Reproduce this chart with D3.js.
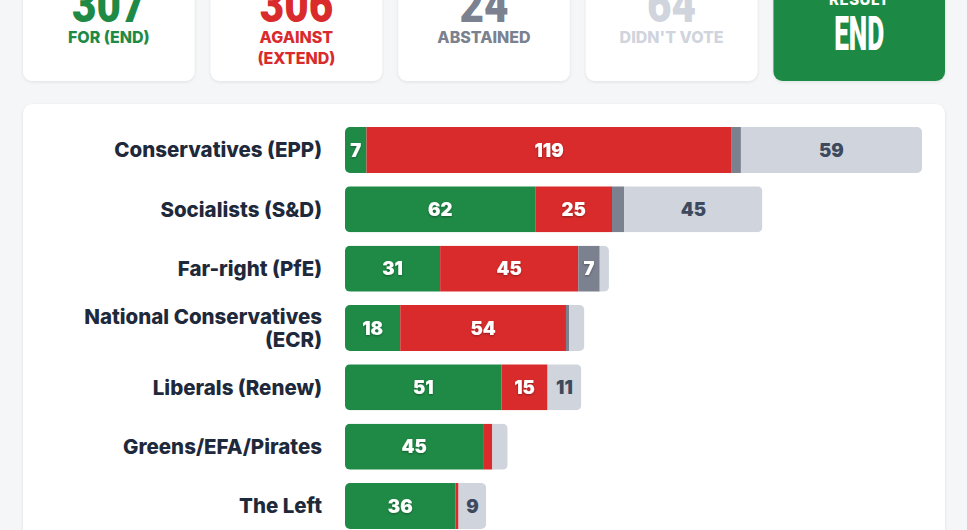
<!DOCTYPE html>
<html>
<head>
<meta charset="utf-8">
<script src="https://cdn.jsdelivr.net/npm/d3@7"></script>
<style>
  html, body { margin: 0; padding: 0; background: #f5f6f8; }
  svg { display: block; }
</style>
</head>
<body>
<svg id="chart" width="967" height="530"></svg>
<script>
// ---- data ----
const groups = ["Conservatives (EPP)", "Socialists (S&D)", "Far-right (PfE)", "National Conservatives (ECR)", "Liberals (Renew)", "Greens/EFA/Pirates", "The Left"];
const forVotes = [7, 62, 31, 18, 51, 45, 36];
const againstVotes = [119, 25, 45, 54, 15, 3, 1];
const abstainedVotes = [3, 4, 7, 1, 0, 0, 0];
const didntVoteVotes = [59, 45, 3, 5, 11, 5, 9];
const seriesKeys = ["for", "against", "abstained", "didnt"];

const summaryValues = [307, 306, 24, 64];
const summaryLabels = [["FOR (END)"], ["AGAINST", "(EXTEND)"], ["ABSTAINED"], ["DIDN'T VOTE"]];
const resultLabel = "RESULT";
const resultValue = "END";

// ---- style ----
const colors = { for: "#1f8a45", against: "#d92b2b", abstained: "#7b818e", didnt: "#d0d4dd" };
const summaryColors = ["#1f8a45", "#d92b2b", "#7b818e", "#d0d4dd"];
const svg = d3.select("#chart");

const defs = svg.append("defs");
const sh = defs.append("filter").attr("id", "cardShadow").attr("x", "-10%").attr("y", "-10%").attr("width", "120%").attr("height", "130%");
sh.append("feDropShadow").attr("dx", 0).attr("dy", 1).attr("stdDeviation", 1.5).attr("flood-color", "#1e293b").attr("flood-opacity", 0.10);
const ts = defs.append("filter").attr("id", "textShadow").attr("x", "-20%").attr("y", "-20%").attr("width", "140%").attr("height", "150%");
ts.append("feDropShadow").attr("dx", 0).attr("dy", 1).attr("stdDeviation", 1).attr("flood-color", "#000").attr("flood-opacity", 0.35);

// ---- summary cards ----
const cardX = d3.scaleBand().domain(d3.range(5)).range([23, 945]).paddingInner(0.0855);
const cardTop = -60, cardBottom = 81;
const cards = svg.append("g");
d3.range(5).forEach(i => {
  const x = cardX(i), w = cardX.bandwidth();
  cards.append("rect").attr("x", x).attr("y", cardTop).attr("width", w).attr("height", cardBottom - cardTop)
    .attr("rx", 9).attr("fill", i === 4 ? "#1f8a45" : "#ffffff").attr("filter", "url(#cardShadow)");
  const cx = x + w / 2;
  if (i < 4) {
    const v = String(summaryValues[i]);
    cards.append("text").attr("x", cx).attr("y", 22).attr("text-anchor", "middle")
      .attr("font-family", "Roboto, 'DejaVu Sans'").attr("font-weight", 900).attr("font-size", 50)
      .attr("textLength", v.length * 24.5).attr("lengthAdjust", "spacingAndGlyphs")
      .attr("fill", summaryColors[i]).text(v);
    summaryLabels[i].forEach((line, j) => {
      cards.append("text").attr("x", cx).attr("y", 43 + j * 21).attr("text-anchor", "middle")
        .attr("font-family", "Inter, Roboto, sans-serif").attr("font-weight", 800).attr("font-size", 16)
        .attr("fill", summaryColors[i]).text(line);
    });
  } else {
    cards.append("text").attr("x", cx).attr("y", 5).attr("text-anchor", "middle")
      .attr("font-family", "Inter, Roboto, sans-serif").attr("font-weight", 800).attr("font-size", 15)
      .attr("letter-spacing", 0.5).attr("fill", "#ffffff").text(resultLabel);
    cards.append("text").attr("x", cx).attr("y", 50).attr("text-anchor", "middle")
      .attr("font-family", "Roboto, 'DejaVu Sans'").attr("font-weight", 900).attr("font-size", 48)
      .attr("textLength", 50).attr("lengthAdjust", "spacingAndGlyphs")
      .attr("fill", "#ffffff").text(resultValue);
  }
});

// ---- panel ----
svg.append("rect").attr("x", 23).attr("y", 104).attr("width", 922).attr("height", 500)
  .attr("rx", 10).attr("fill", "#ffffff").attr("filter", "url(#cardShadow)");

// ---- bars ----
const rows = groups.map((g, i) => ({
  group: g, for: forVotes[i], against: againstVotes[i], abstained: abstainedVotes[i], didnt: didntVoteVotes[i]
}));
const totals = rows.map(r => r.for + r.against + r.abstained + r.didnt);
const x = d3.scaleLinear().domain([0, d3.max(totals)]).range([345, 922]);
const y = d3.scaleBand().domain(groups).range([127, 529]).paddingInner(0.225).paddingOuter(0);
const stack = d3.stack().keys(seriesKeys)(rows);

rows.forEach((r, i) => {
  defs.append("clipPath").attr("id", "clip" + i).append("rect")
    .attr("x", x(0)).attr("y", y(r.group)).attr("width", x(totals[i]) - x(0)).attr("height", y.bandwidth()).attr("rx", 5);
});

const barG = svg.append("g");
stack.forEach(layer => {
  const key = layer.key;
  layer.forEach((d, i) => {
    const w = x(d[1]) - x(d[0]);
    if (w <= 0) return;
    const g = barG.append("g").attr("clip-path", `url(#clip${i})`);
    g.append("rect").attr("x", x(d[0])).attr("y", y(groups[i])).attr("width", w).attr("height", y.bandwidth()).attr("fill", colors[key]);
  });
});
stack.forEach(layer => {
  const key = layer.key;
  layer.forEach((d, i) => {
    const w = x(d[1]) - x(d[0]);
    const v = d[1] - d[0];
    if (w < 20) return;
    barG.append("text").attr("x", (x(d[0]) + x(d[1])) / 2).attr("y", y(groups[i]) + y.bandwidth() / 2)
      .attr("dy", "0.36em").attr("text-anchor", "middle")
      .attr("font-family", "Inter, Roboto, sans-serif").attr("font-weight", 900).attr("font-size", 18.5)
      .attr("fill", key === "didnt" ? "#3d4a5e" : "#ffffff")
      .attr("filter", key === "didnt" ? null : "url(#textShadow)")
      .text(v);
  });
});

// ---- group labels ----
const labG = svg.append("g");
groups.forEach(g => {
  const t = labG.append("text").attr("x", 322).attr("text-anchor", "end")
    .attr("font-family", "Inter, Roboto, sans-serif").attr("font-weight", 800).attr("font-size", 20.5)
    .attr("fill", "#1e293b");
  const words = g.split(" ");
  t.text(g);
  let lines = [g];
  if (t.node().getComputedTextLength() > 270) {
    lines = [words.slice(0, -1).join(" "), words[words.length - 1]];
  }
  t.text(null);
  const cy = y(g) + y.bandwidth() / 2;
  const lh = 23;
  lines.forEach((ln, j) => {
    t.append("tspan").attr("x", 322).attr("y", cy + (j - (lines.length - 1) / 2) * lh).attr("dy", "0.36em").text(ln);
  });
});
</script>
</body>
</html>
